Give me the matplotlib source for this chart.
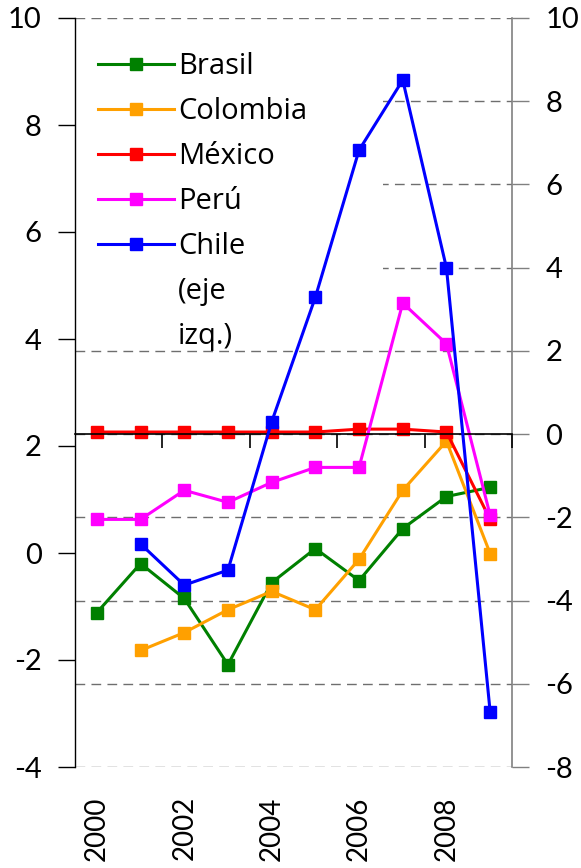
import numpy as np
import matplotlib
matplotlib.use("Agg")
import matplotlib.pyplot as plt
from matplotlib.patches import Rectangle
from matplotlib.lines import Line2D

plt.rcParams['font.family'] = ['Lato', 'DejaVu Sans']
plt.rcParams['axes.unicode_minus'] = False

years = ['2000', '2001', '2002', '2003', '2004', '2005', '2006', '2007', '2008', '2009']
year_labels = ['2000', '2002', '2004', '2006', '2008']

# right axis series
brasil = [-4.29, -3.11, -3.95, -5.54, -3.57, -2.75, -3.52, -2.27, -1.50, -1.28]
colombia = [np.nan, -5.20, -4.77, -4.22, -3.78, -4.22, -3.01, -1.35, -0.17, -2.87]
mexico = [0.05, 0.05, 0.05, 0.05, 0.05, 0.05, 0.12, 0.12, 0.05, -2.05]
peru = [-2.05, -2.05, -1.35, -1.64, -1.16, -0.80, -0.80, 3.15, 2.17, -1.95]
# left axis series
chile = [np.nan, 0.17, -0.60, -0.32, 2.45, 4.78, 7.53, 8.84, 5.33, -2.97]

left_ticks = [-4, -2, 0, 2, 4, 6, 8, 10]
right_ticks = [-8, -6, -4, -2, 0, 2, 4, 6, 8, 10]

fig = plt.figure(figsize=(5.81, 8.68), dpi=100)
ax = fig.add_axes([75/581, 1-767/868, 437/581, 749/868])
ax2 = ax.twinx()
ax.set_zorder(ax2.get_zorder() + 1)
ax.patch.set_visible(False)

x = np.arange(len(years))
ax.set_xlim(-0.5, len(years) - 0.5)
ax.set_ylim(-4, 10)
ax2.set_ylim(-8, 10)

lw, ms = 2.2, 8
hb, = ax2.plot(x, brasil, color='#008000', marker='s', lw=lw, ms=ms, zorder=3, label='Brasil')
hc, = ax2.plot(x, colombia, color='#FFA000', marker='s', lw=lw, ms=ms, zorder=3, label='Colombia')
hm, = ax2.plot(x, mexico, color='#FF0000', marker='s', lw=lw, ms=ms, zorder=3, label='México')
hp, = ax2.plot(x, peru, color='#FF00FF', marker='s', lw=lw, ms=ms, zorder=3, label='Perú')
hch, = ax.plot(x, chile, color='#0000FF', marker='s', lw=lw, ms=ms, zorder=3, label='Chile')

# gridlines (right axis)
ax2.set_axisbelow(True)
ax2.set_yticks(right_ticks)
ax2.yaxis.grid(True, color='#6e6e6e', linestyle=(0, (7, 4.5)), linewidth=1.0)
ax2.add_patch(Rectangle((0, (767-345)/749), (383-75)/437, (345-22)/749,
                        transform=ax2.transAxes, facecolor='white', edgecolor='none', zorder=1))

# y axes
ax.set_yticks(left_ticks)
ax.tick_params(axis='y', which='major', length=12, width=1, pad=12, labelsize=21, colors='black')
ax2.tick_params(axis='y', which='major', length=12, width=1, pad=12, labelsize=21,
                color='#808080', labelcolor='black')

# x axis line at right-axis zero with category-boundary ticks
ax.spines['bottom'].set_position(('axes', 8/18))
ax.spines['bottom'].set_color('black')
ax.spines['bottom'].set_linewidth(1.2)
ax.set_xticks([1.5, 3.5, 5.5, 7.5, 9.5])
ax.tick_params(axis='x', which='major', length=10, width=1.2, direction='out',
               labelbottom=False, color='black')

sec = ax.secondary_xaxis(0)
sec.set_xticks(x[::2], labels=year_labels)
sec.tick_params(axis='x', length=0, pad=21, labelsize=20, labelrotation=90)
sec.spines['bottom'].set_visible(False)

for s in ['top', 'right']:
    ax.spines[s].set_visible(False)
ax.spines['left'].set_color('black')
ax.spines['left'].set_linewidth(1.0)
for s in ['top', 'left', 'bottom']:
    ax2.spines[s].set_visible(False)
ax2.spines['right'].set_color('#808080')
ax2.spines['right'].set_linewidth(1.2)

blank1 = Line2D([], [], color='none', label='(eje')
blank2 = Line2D([], [], color='none', label='izq.)')
leg = ax.legend(handles=[hb, hc, hm, hp, hch, blank1, blank2], loc='upper left',
                bbox_to_anchor=((98-75)/437, (767-52)/749), frameon=False,
                prop={'family': ['Open Sans', 'DejaVu Sans'], 'size': 21},
                handlelength=2.6, handletextpad=0.14,
                labelspacing=0.55, borderpad=0, borderaxespad=0)

fig.savefig('out.png', dpi=100)
